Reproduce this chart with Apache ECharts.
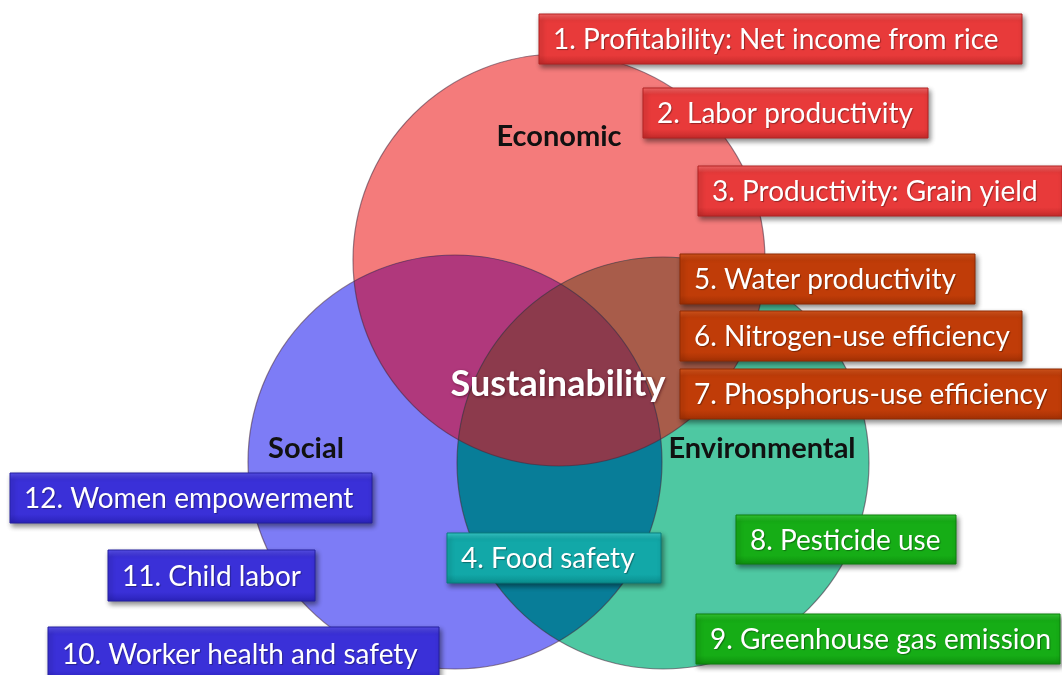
<!DOCTYPE html>
<html>
<head>
<meta charset="utf-8">
<script src="https://cdn.jsdelivr.net/npm/echarts@6/dist/echarts.min.js"></script>
<style>
  html, body { margin: 0; padding: 0; background: #ffffff; }
  #chart { width: 1062px; height: 675px; }
</style>
</head>
<body>
<div id="chart"></div>
<script>
// ---------------- data ----------------
const circleNames = ['Economic', 'Social', 'Environmental'];
const circleCX = [559, 455, 663];
const circleCY = [260, 462, 463];
const circleR = [206, 207, 206];

const groupLabels = ['Economic', 'Social', 'Environmental', 'Sustainability'];
const groupLabelX = [559, 306, 762, 558];
const groupLabelY = [137, 449, 449, 384];

const indicatorLabels = [
  '1. Profitability: Net income from rice',
  '2. Labor productivity',
  '3. Productivity: Grain yield',
  '4. Food safety',
  '5. Water productivity',
  '6. Nitrogen-use efficiency',
  '7. Phosphorus-use efficiency',
  '8. Pesticide use',
  '9. Greenhouse gas emission',
  '10. Worker health and safety',
  '11. Child labor',
  '12. Women empowerment'
];
const indicatorGroup = ['econ', 'econ', 'econ', 'socenv', 'econenv', 'econenv', 'econenv', 'env', 'env', 'soc', 'soc', 'soc'];
// box layout: left, top, right, bottom (diagram coordinates)
const boxLeft   = [539, 643, 698, 447, 680, 680, 680, 736, 696, 48, 108, 10];
const boxTop    = [14, 88, 166, 533, 254, 311, 369, 515, 614, 627, 550, 473];
const boxRight  = [1022, 928, 1062, 661, 975, 1022, 1062, 956, 1060, 439, 315, 372];
const boxBottom = [64, 138, 216, 583, 304, 361, 419, 564, 664, 680, 601, 523];

// ---------------- styles ----------------
const circleFill = ['#f47b7b', '#7d7cf6', '#4ec8a2'];
const regionDefs = [[0, 1], [0, 2], [1, 2], [0, 1, 2]];
const regionFill = ['#b0387c', '#a85c4a', '#087d98', '#8c3a4c'];
const palettes = {
  econ:    { top: '#f86a6a', base: '#e83a3a', bottom: '#c42a2a', edge: '#b22222' },
  econenv: { top: '#d9581e', base: '#c03c08', bottom: '#a23004', edge: '#8e2a04' },
  env:     { top: '#36cc36', base: '#16ad16', bottom: '#0e900e', edge: '#0c800c' },
  socenv:  { top: '#38cccc', base: '#12a8a8', bottom: '#0a8e8e', edge: '#087c7c' },
  soc:     { top: '#5a52ee', base: '#3a30d8', bottom: '#2a22b8', edge: '#2420a0' }
};

// ---------------- geometry helpers ----------------
function intersect(c1, r1, c2, r2) {
  const dx = c2[0] - c1[0], dy = c2[1] - c1[1];
  const d = Math.hypot(dx, dy);
  const a = (r1 * r1 - r2 * r2 + d * d) / (2 * d);
  const h = Math.sqrt(Math.max(0, r1 * r1 - a * a));
  const mx = c1[0] + a * dx / d, my = c1[1] + a * dy / d;
  return [[mx + h * dy / d, my - h * dx / d], [mx - h * dy / d, my + h * dx / d]];
}
function arcPts(c, r, p, q, n) {
  const a1 = Math.atan2(p[1] - c[1], p[0] - c[0]);
  const a2 = Math.atan2(q[1] - c[1], q[0] - c[0]);
  let d = a2 - a1;
  while (d > Math.PI) d -= 2 * Math.PI;
  while (d < -Math.PI) d += 2 * Math.PI;
  const pts = [];
  for (let k = 0; k <= n; k++) {
    const t = a1 + d * k / n;
    pts.push([c[0] + r * Math.cos(t), c[1] + r * Math.sin(t)]);
  }
  return pts;
}
function closer(pts, target) {
  const d0 = Math.hypot(pts[0][0] - target[0], pts[0][1] - target[1]);
  const d1 = Math.hypot(pts[1][0] - target[0], pts[1][1] - target[1]);
  return d0 < d1 ? pts[0] : pts[1];
}
function circlesPx(api) {
  return circleNames.map((_, j) => ({
    c: api.coord([circleCX[j], circleCY[j]]),
    r: api.size([circleR[j], 0])[0]
  }));
}

// ---------------- chart ----------------
const chart = echarts.init(document.getElementById('chart'), null, { renderer: 'canvas' });

const option = {
  animation: false,
  backgroundColor: '#ffffff',
  grid: { left: 0, right: 0, top: 0, bottom: 0 },
  xAxis: { type: 'value', min: 0, max: 1062, show: false },
  yAxis: { type: 'value', min: 0, max: 675, inverse: true, show: false },
  series: [
    {
      name: 'circles',
      type: 'custom',
      coordinateSystem: 'cartesian2d',
      clip: false,
      data: circleNames.map((n, j) => [circleCX[j], circleCY[j], circleR[j]]),
      encode: { x: 0, y: 1 },
      renderItem(params, api) {
        const c = api.coord([api.value(0), api.value(1)]);
        const r = api.size([api.value(2), 0])[0];
        return {
          type: 'circle',
          shape: { cx: c[0], cy: c[1], r: r },
          style: { fill: circleFill[params.dataIndex], stroke: null }
        };
      }
    },
    {
      name: 'overlaps',
      type: 'custom',
      coordinateSystem: 'cartesian2d',
      clip: false,
      data: regionDefs.map((d, k) => [circleCX[d[0]], circleCY[d[0]], k]),
      encode: { x: 0, y: 1 },
      renderItem(params, api) {
        const cs = circlesPx(api);
        const def = regionDefs[params.dataIndex];
        let pts;
        if (def.length === 2) {
          const A = cs[def[0]], B = cs[def[1]];
          const P = intersect(A.c, A.r, B.c, B.r);
          pts = arcPts(A.c, A.r, P[0], P[1], 80).concat(arcPts(B.c, B.r, P[1], P[0], 80));
        } else {
          const [A, B, C] = [cs[def[0]], cs[def[1]], cs[def[2]]];
          const vAB = closer(intersect(A.c, A.r, B.c, B.r), C.c);
          const vAC = closer(intersect(A.c, A.r, C.c, C.r), B.c);
          const vBC = closer(intersect(B.c, B.r, C.c, C.r), A.c);
          pts = arcPts(A.c, A.r, vAB, vAC, 60)
            .concat(arcPts(C.c, C.r, vAC, vBC, 60))
            .concat(arcPts(B.c, B.r, vBC, vAB, 60));
        }
        return {
          type: 'polygon',
          shape: { points: pts },
          style: { fill: regionFill[params.dataIndex], stroke: null }
        };
      }
    },
    {
      name: 'outlines',
      type: 'custom',
      coordinateSystem: 'cartesian2d',
      clip: false,
      data: circleNames.map((n, j) => [circleCX[j], circleCY[j], circleR[j]]),
      encode: { x: 0, y: 1 },
      renderItem(params, api) {
        const c = api.coord([api.value(0), api.value(1)]);
        const r = api.size([api.value(2), 0])[0];
        return {
          type: 'circle',
          shape: { cx: c[0], cy: c[1], r: r },
          style: { fill: null, stroke: 'rgba(70,40,60,0.55)', lineWidth: 1.2 }
        };
      }
    },
    {
      name: 'groupLabels',
      type: 'custom',
      coordinateSystem: 'cartesian2d',
      clip: false,
      data: groupLabels.map((n, j) => [groupLabelX[j], groupLabelY[j]]),
      encode: { x: 0, y: 1 },
      renderItem(params, api) {
        const p = api.coord([api.value(0), api.value(1)]);
        const isCore = params.dataIndex === 3;
        return {
          type: 'text',
          style: {
            text: groupLabels[params.dataIndex],
            x: p[0], y: p[1],
            align: 'center', verticalAlign: 'middle',
            fill: isCore ? '#ffffff' : '#111111',
            font: isCore ? 'bold 36px Lato' : 'bold 29px Lato',
            textShadowColor: isCore ? 'rgba(60,0,20,0.6)' : 'transparent',
            textShadowBlur: isCore ? 3 : 0,
            textShadowOffsetX: isCore ? 1 : 0,
            textShadowOffsetY: isCore ? 1 : 0
          }
        };
      }
    },
    {
      name: 'indicators',
      type: 'custom',
      coordinateSystem: 'cartesian2d',
      clip: false,
      data: indicatorLabels.map((n, i) => [boxLeft[i], boxTop[i], boxRight[i], boxBottom[i]]),
      encode: { x: [0, 2], y: [1, 3] },
      renderItem(params, api) {
        const i = params.dataIndex;
        const p0 = api.coord([api.value(0), api.value(1)]);
        const p1 = api.coord([api.value(2), api.value(3)]);
        const pal = palettes[indicatorGroup[i]];
        return {
          type: 'group',
          children: [
            {
              type: 'rect',
              shape: { x: p0[0], y: p0[1], width: p1[0] - p0[0], height: p1[1] - p0[1] },
              style: {
                fill: new echarts.graphic.LinearGradient(0, 0, 0, 1, [
                  { offset: 0, color: pal.top },
                  { offset: 0.14, color: pal.base },
                  { offset: 0.82, color: pal.base },
                  { offset: 1, color: pal.bottom }
                ]),
                stroke: pal.edge,
                lineWidth: 1,
                shadowBlur: 5,
                shadowColor: 'rgba(0,0,0,0.45)',
                shadowOffsetX: 2,
                shadowOffsetY: 3
              }
            },
            {
              type: 'text',
              style: {
                text: indicatorLabels[i],
                x: p0[0] + 14, y: (p0[1] + p1[1]) / 2 + 1,
                align: 'left', verticalAlign: 'middle',
                fill: '#ffffff',
                font: '28px Lato',
                textShadowColor: 'rgba(0,0,0,0.35)',
                textShadowBlur: 1,
                textShadowOffsetX: 1,
                textShadowOffsetY: 1
              }
            }
          ]
        };
      }
    }
  ]
};
chart.setOption(option);
</script>
</body>
</html>
